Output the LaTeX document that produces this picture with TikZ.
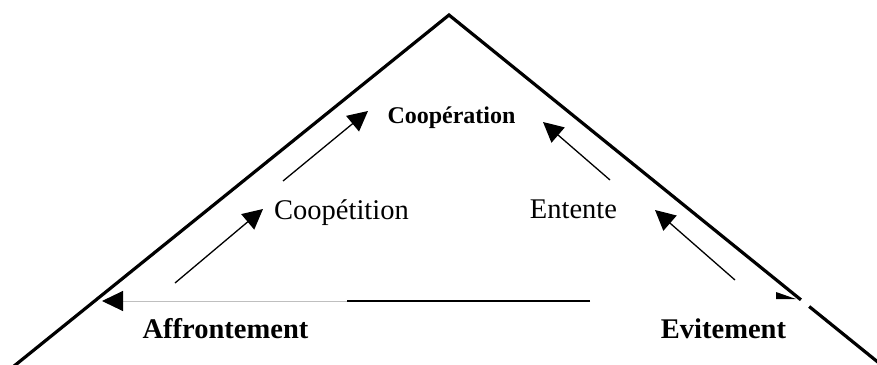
\documentclass[tikz,border=0pt]{standalone}
\usepackage{fontspec}
\setmainfont{Liberation Serif}
\usetikzlibrary{arrows.meta}
\begin{document}
\begin{tikzpicture}[x=1pt,y=-1pt,
  frame/.style={line width=3.2pt, line join=miter},
  flow/.style={line width=1.3pt, -{Triangle[length=20pt,width=20pt]}},
  lbl/.style={anchor=base, inner sep=0pt, font=\fontsize{28.5}{30}\selectfont},
  lblb/.style={lbl, font=\fontsize{28.5}{30}\selectfont\bfseries},
  lblc/.style={lbl, font=\fontsize{24}{26}\selectfont\bfseries},
]
\useasboundingbox (0,0) rectangle (877,364);
\clip (0,0) rectangle (877,364);
% labels
\node[lblb] (aff) at (225.5,338) {Affrontement};
\node[lblb] (evi) at (723.5,338) {Evitement};
\node[lbl] (coopet) at (341.5,219) {Coopétition};
\node[lbl] (ent) at (573.5,218) {Entente};
\node[lblc] (coop) at (451.5,123) {Coopération};
% frame
\coordinate (apex) at (449,15);
\coordinate (L) at (-2,379);
\coordinate (R) at (900,380);
\draw[frame] (L) -- (apex) -- (R);
\draw[white, line width=5pt] (801,300) -- (809,306.5);
\fill (776,292) -- (776,299) -- (796,299) -- cycle;
% horizontal connector
\coordinate (h1) at (590,301);
\coordinate (h2) at (347,301);
\coordinate (h3) at (102,301);
\draw[line width=2pt] (h1) -- (h2);
\draw[black!25, line width=1pt, -{Triangle[length=21pt,width=20pt,color=black]}] (h2) -- (h3);
% diagonal arrows
\coordinate (a1s) at (175,283); \coordinate (a1e) at (263,209);
\coordinate (a2s) at (283,181); \coordinate (a2e) at (368,111);
\coordinate (a3s) at (735,280); \coordinate (a3e) at (655,210);
\coordinate (a4s) at (610,180); \coordinate (a4e) at (543,122);
\draw[flow] (a1s) -- (a1e);
\draw[flow] (a2s) -- (a2e);
\draw[flow] (a3s) -- (a3e);
\draw[flow] (a4s) -- (a4e);
\end{tikzpicture}
\end{document}
